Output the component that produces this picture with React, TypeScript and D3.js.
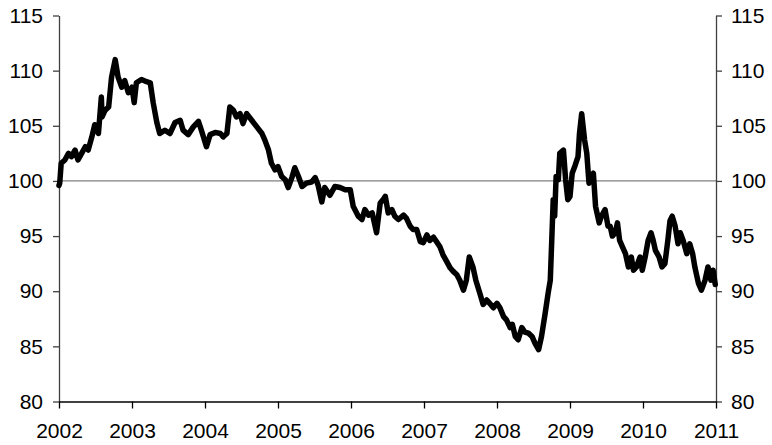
import { useEffect, useRef } from "react"
import * as d3 from "d3"

// decimal years
const dates = [
  2002.0, 2002.01, 2002.03, 2002.08, 2002.13, 2002.17, 2002.22, 2002.26, 2002.31, 2002.36,
  2002.4, 2002.45, 2002.49, 2002.54, 2002.58, 2002.59, 2002.63, 2002.68, 2002.72, 2002.77,
  2002.81, 2002.86, 2002.9, 2002.95, 2003.0, 2003.03, 2003.06, 2003.13, 2003.2, 2003.25,
  2003.29, 2003.34, 2003.38, 2003.45, 2003.52, 2003.59, 2003.66, 2003.7, 2003.77, 2003.84,
  2003.91, 2003.95, 2004.02, 2004.07, 2004.14, 2004.21, 2004.25, 2004.3, 2004.34, 2004.39,
  2004.43, 2004.48, 2004.52, 2004.57, 2004.64, 2004.71, 2004.78, 2004.82, 2004.87, 2004.91,
  2004.96, 2005.0, 2005.05, 2005.1, 2005.14, 2005.19, 2005.23, 2005.28, 2005.33, 2005.39,
  2005.46, 2005.51, 2005.55, 2005.6, 2005.64, 2005.71, 2005.78, 2005.85, 2005.92, 2005.99,
  2006.03, 2006.1, 2006.15, 2006.19, 2006.24, 2006.29, 2006.35, 2006.4, 2006.44, 2006.47,
  2006.51, 2006.56, 2006.6, 2006.65, 2006.72, 2006.76, 2006.81, 2006.85, 2006.9, 2006.95,
  2006.99, 2007.04, 2007.08, 2007.13, 2007.17, 2007.22, 2007.26, 2007.31, 2007.36, 2007.4,
  2007.45, 2007.49, 2007.54, 2007.58, 2007.62, 2007.67, 2007.71, 2007.77, 2007.81, 2007.86,
  2007.9, 2007.95, 2008.0, 2008.04, 2008.09, 2008.13, 2008.18, 2008.21, 2008.25, 2008.29,
  2008.34, 2008.38, 2008.43, 2008.48, 2008.52, 2008.57, 2008.61, 2008.66, 2008.7, 2008.73,
  2008.75, 2008.77, 2008.79, 2008.81, 2008.84, 2008.86, 2008.91, 2008.94, 2008.97, 2009.0,
  2009.03, 2009.07, 2009.11, 2009.13, 2009.16, 2009.2, 2009.23, 2009.26, 2009.3, 2009.32,
  2009.35, 2009.4, 2009.43, 2009.48, 2009.52, 2009.55, 2009.58, 2009.62, 2009.65, 2009.68,
  2009.72, 2009.76, 2009.8, 2009.84, 2009.87, 2009.91, 2009.96, 2009.99, 2010.03, 2010.07,
  2010.11, 2010.14, 2010.17, 2010.22, 2010.26, 2010.3, 2010.34, 2010.37, 2010.4, 2010.44,
  2010.48, 2010.51, 2010.55, 2010.6, 2010.64, 2010.68, 2010.71, 2010.76, 2010.8, 2010.85,
  2010.89, 2010.93, 2010.96, 2010.99,
]

const values = [
  99.6, 99.8, 101.6, 101.9, 102.5, 102.2, 102.8, 101.9, 102.5, 103.1,
  102.8, 104.0, 105.1, 104.3, 107.6, 105.8, 106.4, 106.7, 109.4, 111.0,
  109.4, 108.5, 109.1, 108.0, 108.5, 107.1, 108.9, 109.2, 109.0, 108.9,
  107.1, 105.3, 104.3, 104.6, 104.3, 105.3, 105.5, 104.6, 104.2, 104.9,
  105.4, 104.6, 103.1, 104.2, 104.4, 104.3, 104.0, 104.3, 106.7, 106.4,
  105.8, 106.1, 105.2, 106.1, 105.5, 104.9, 104.3, 103.7, 102.8, 101.6,
  101.0, 101.3, 100.4, 100.1, 99.4, 100.3, 101.2, 100.4, 99.5, 99.8,
  99.9, 100.3, 99.6, 98.1, 99.4, 98.7, 99.5, 99.4, 99.2, 99.2,
  97.7, 96.8, 96.5, 97.4, 96.9, 97.1, 95.3, 98.0, 98.3, 98.6,
  97.1, 97.4, 96.8, 96.5, 96.9, 96.6, 95.9, 95.6, 95.6, 94.5,
  94.4, 95.1, 94.6, 94.9, 94.5, 94.0, 93.3, 92.7, 92.1, 91.8,
  91.5, 91.0, 90.1, 91.0, 93.1, 92.2, 91.0, 89.7, 88.8, 89.2,
  88.9, 88.5, 88.9, 88.5, 87.7, 87.4, 86.7, 87.0, 85.9, 85.6,
  86.7, 86.3, 86.2, 85.9, 85.3, 84.7, 85.9, 88.0, 89.8, 91.0,
  94.6, 98.3, 96.8, 100.4, 100.1, 102.5, 102.8, 100.1, 98.3, 98.6,
  100.7, 101.4, 102.2, 104.3, 106.1, 103.7, 102.5, 99.8, 100.4, 100.7,
  97.7, 96.2, 96.8, 97.4, 95.9, 95.9, 95.0, 95.3, 96.2, 94.6,
  94.0, 93.4, 92.2, 93.1, 91.9, 92.2, 93.1, 91.9, 93.1, 94.6,
  95.3, 94.6, 93.7, 93.1, 92.2, 92.5, 94.6, 96.4, 96.8, 95.9,
  94.3, 95.3, 94.6, 93.4, 94.3, 93.4, 92.2, 90.7, 90.1, 91.0,
  92.2, 91.0, 91.9, 90.6,
]

const yearTicks = [2002, 2003, 2004, 2005, 2006, 2007, 2008, 2009, 2010, 2011]
const valueTicks = [80, 85, 90, 95, 100, 105, 110, 115]
const baseline = 100

export default function App() {
  const svgRef = useRef<SVGSVGElement>(null)

  useEffect(() => {
    const svg = d3.select(svgRef.current)
    svg.selectAll("*").remove()

    const width = 772
    const height = 445
    const margin = { left: 59, right: 56, top: 15.5, bottom: 43.5 }
    const innerW = width - margin.left - margin.right
    const innerH = height - margin.top - margin.bottom

    const x = d3.scaleLinear().domain([2002, 2011]).range([0, innerW])
    const y = d3.scaleLinear().domain([80, 115]).range([innerH, 0])

    const g = svg.append("g")
      .attr("transform", `translate(${margin.left},${margin.top})`)

    // 100 reference line
    g.append("line")
      .attr("x1", 0).attr("x2", innerW)
      .attr("y1", y(baseline)).attr("y2", y(baseline))
      .attr("stroke", "#808080")
      .attr("stroke-width", 1.2)

    const font = "'Liberation Sans', Arial, sans-serif"

    const styleAxis = (sel: any, color: string) => {
      sel.selectAll("path").attr("stroke", color).attr("stroke-width", 1.3)
      sel.selectAll("line").attr("stroke", color).attr("stroke-width", 1.3)
      sel.selectAll("text")
        .attr("fill", "#000")
        .style("font-family", font)
        .style("font-size", "21px")
    }

    const left = g.append("g")
      .call(d3.axisLeft(y).tickValues(valueTicks).tickSize(6).tickSizeOuter(0).tickPadding(10).tickFormat(d3.format("d")))
    styleAxis(left, "#404040")

    const right = g.append("g")
      .attr("transform", `translate(${innerW},0)`)
      .call(d3.axisRight(y).tickValues(valueTicks).tickSize(6).tickSizeOuter(0).tickPadding(9).tickFormat(d3.format("d")))
    styleAxis(right, "#404040")

    const bottom = g.append("g")
      .attr("transform", `translate(0,${innerH})`)
      .call(d3.axisBottom(x).tickValues(yearTicks).tickSize(7).tickSizeOuter(0).tickPadding(15).tickFormat(d3.format("d")))
    styleAxis(bottom, "#000")

    const points = dates.map((d, i) => [d, values[i]] as [number, number])

    g.append("path")
      .datum(points)
      .attr("fill", "none")
      .attr("stroke", "#000")
      .attr("stroke-width", 5.5)
      .attr("stroke-linejoin", "round")
      .attr("stroke-linecap", "round")
      .attr("d", d3.line<[number, number]>().x(d => x(d[0])).y(d => y(d[1])))
  }, [])

  return (
    <svg
      ref={svgRef}
      width={772}
      height={445}
      style={{ position: "absolute", left: 0, top: 0, background: "#fff" }}
    />
  )
}
